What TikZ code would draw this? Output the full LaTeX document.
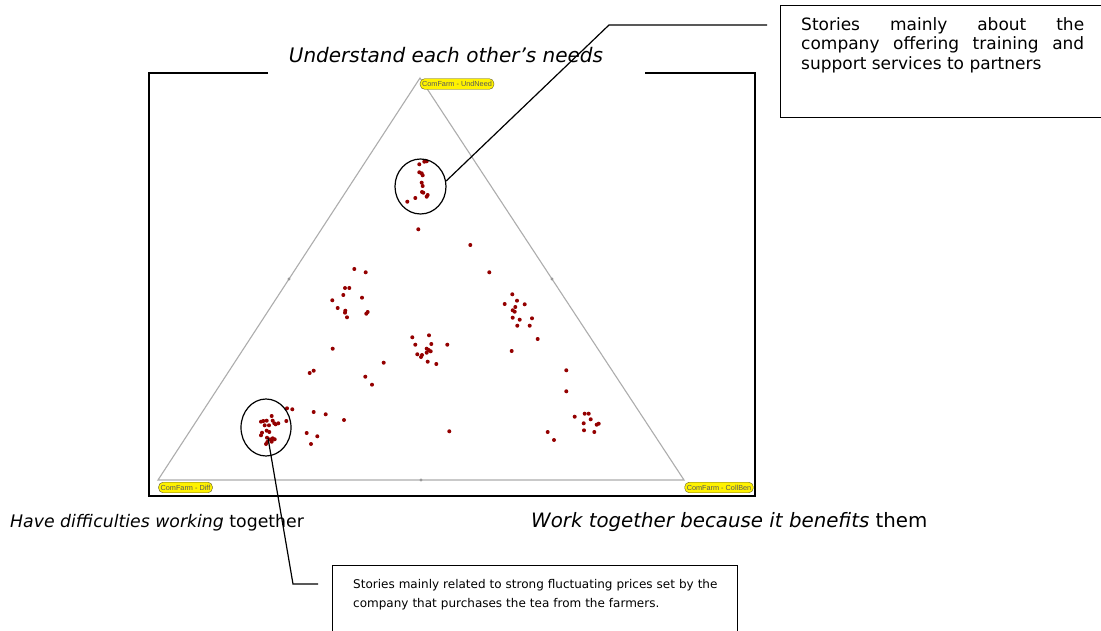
\documentclass[tikz,border=0pt]{standalone}
\usepackage{fontspec}
\setmainfont{DejaVu Sans}
\newfontfamily\tagfont{Liberation Sans}
\usetikzlibrary{shapes.geometric}
\begin{document}
\begin{tikzpicture}[x=1pt,y=-1pt,
  frameline/.style={line width=1.7pt, black},
  triline/.style={line width=1.1pt, black!32},
  dotmark/.style={fill=red!58!black},
  midmark/.style={fill=black!40},
  tagbox/.style={draw=olive!60!black, fill=yellow, rounded corners=4.5pt,
    font=\tagfont\fontsize{7.3}{8}\selectfont, text=black!65,
    inner xsep=2pt, inner ysep=2.6pt},
  callout/.style={line width=1.2pt, black},
  ring/.style={ellipse, draw, line width=1.2pt, inner sep=0pt},
  boxshape/.style={draw, line width=1.2pt, anchor=north west, inner sep=0pt},
  axislabel/.style={inner sep=0pt, anchor=base west}
]
\useasboundingbox (0,0) rectangle (1101,631);
\clip (0,0) rectangle (1101,631);
\fill[white] (0,0) rectangle (1101,631);

% frame
\draw[frameline] (268,73) -- (149,73) -- (149,496) -- (755,496) -- (755,73) -- (645,73);

% triangle
\coordinate (A) at (420,78);
\coordinate (B) at (158,480);
\coordinate (C) at (684,480);
\draw[triline] (A) -- (B) -- (C) -- cycle;
\fill[midmark] (289,279) circle (1.7);
\fill[midmark] (552,279) circle (1.7);
\fill[midmark] (421,480) circle (1.7);

% tags
\node[tagbox] (tA) at (457,84) {ComFarm - UndNeed};
\node[tagbox] (tB) at (185.5,487.5) {ComFarm - Diff};
\node[tagbox] (tC) at (719,487.5) {ComFarm - CollBen};

% title and axis labels
\node[inner sep=0pt, anchor=base, font=\fontsize{20}{24}\selectfont\itshape] (title) at (446,63) {Understand each other’s needs};
\node[axislabel, font=\fontsize{17.3}{21}\selectfont] (lblB) at (10,527) {\itshape Have difficulties working\/ \upshape together};
\node[axislabel, font=\fontsize{19.8}{23}\selectfont] (lblC) at (531,527) {\itshape Work together because it benefits\/ \upshape them};

% dots
\foreach \p in {(419.3,164.3),(424.3,161.7),(426.7,161.3),(419.3,172.3),(421.7,173.3),(422.7,175.3),(421.7,182.7),(422.7,186),(422,192),(423.3,192.7),(427.7,195),(426.7,196.7),(415.3,198),(407.3,201.7),(418.3,229.3),(470.3,245),
(354.3,269),(365.7,272.3),(345,288),(349.3,288),(343.3,295),(362,297.7),(332.3,300.3),(337.7,308),(345.3,310.7),(345,312.7),(367.7,312),(366.3,313.7),(347,317.3),
(429,335.3),(412.3,337.3),(415.3,344.7),(431.3,344),(447.3,344.7),(426.7,348.7),(428.7,350),(430.7,351.3),(417.3,354.3),(422,355),(421,357),(426.7,352.7),(427.7,361.7),(436.3,364),
(332.7,348.7),(383.7,362.7),(309.7,373),(313.7,370.7),(365.3,376.7),(372,384.7),
(489.3,272.3),(512.3,294.3),(504.7,304),(517,300.7),(524.7,304.3),(515.3,307),(512.7,310.3),(514.7,311.7),(512.7,317.7),(519.7,319.7),(532,318.3),(517.3,325.7),(529.7,325.7),(537.7,339),(511.7,351),(566.3,370.3),(566.3,391.3),(574.7,416.7),(584.7,413.7),(588.7,413.7),(590.7,419.3),(583.7,423.3),(596.7,424.7),(598.7,423.7),(584,430.3),(594.3,432),(547.7,432),(554,440),
(287,408.3),(292.3,409.3),(313.7,412),(325.7,414.3),(344,420),(286.3,421),(306.7,433),(317.3,436.3),(311,444),(449.3,431.3),
(271.7,416),(261,421.7),(263.3,421),(266.7,420.7),(272.7,420.7),(274.3,423.3),(275.7,424.3),(278.3,423.3),(264.7,425.3),(269,425.3),(266.7,430.7),(262,432.7),(261,435.3),(269.3,432),(267,437.7),(270,439.3),(272.7,438.3),(274.7,439.3),(267.3,442),(271.7,441.7),(266,444)}
  \fill[dotmark] \p circle (2.0);

% rings
\node[ring, minimum width=51pt, minimum height=55pt] (e1) at (420.5,186.5) {};
\node[ring, minimum width=50pt, minimum height=57pt] (e2) at (266,427.5) {};

% boxes
\node[boxshape, minimum width=340pt, minimum height=112pt] (box1) at (780,5) {};
\node[anchor=north west, inner sep=0pt, font=\fontsize{17}{19.5}\selectfont,
  text width=283pt, align=justify] (txt1) at (801,17)
  {\hyphenpenalty=10000 Stories mainly about the\linebreak company offering training and\linebreak support services to partners};
\node[boxshape, minimum width=405pt, minimum height=90pt] (box2) at (332,565) {};
\node[anchor=north west, inner sep=0pt, font=\fontsize{12}{19}\selectfont,
  text width=380pt, align=left] (txt2) at (353,579)
  {Stories mainly related to strong fluctuating prices set by the\\ company that purchases the tea from the farmers.};

% callouts
\coordinate (k1) at (609,25);
\coordinate (k1e) at (767,25);
\draw[callout] (e1.12) -- (k1) -- (k1e);
\coordinate (s2) at (268,438);
\coordinate (k2) at (293,584);
\coordinate (k2e) at (318,584);
\draw[callout] (s2) -- (k2) -- (k2e);
\end{tikzpicture}
\end{document}
